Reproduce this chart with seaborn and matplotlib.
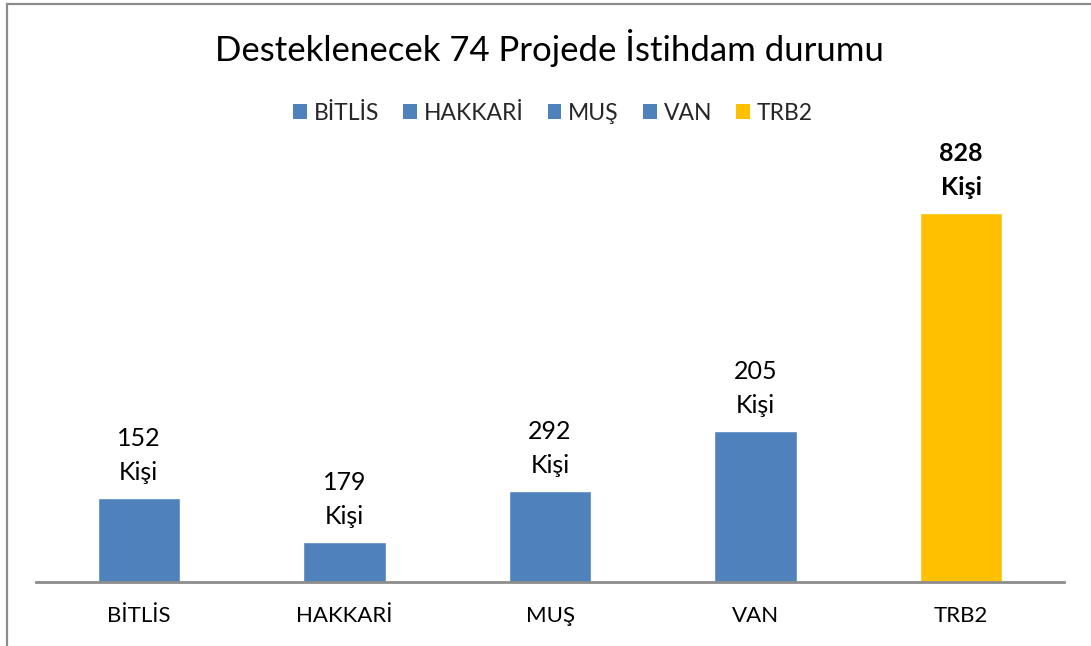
import matplotlib
matplotlib.use("Agg")
import matplotlib.pyplot as plt
import seaborn as sns
import pandas as pd
from matplotlib.patches import Rectangle, Patch

categories = ["BİTLİS", "HAKKARİ", "MUŞ", "VAN", "TRB2"]
bar_values = [188, 90, 204, 339, 828]
label_numbers = ["152", "179", "292", "205", "828"]
label_unit = "Kişi"
colors = ["#4F81BD", "#4F81BD", "#4F81BD", "#4F81BD", "#FFC000"]
title = "Desteklenecek 74 Projede İstihdam durumu"

sns.set_theme(style="white")
plt.rcParams["font.family"] = ["Lato", "DejaVu Sans"]

W, H = 1091, 646
fig = plt.figure(figsize=(W / 100, H / 100), dpi=100)
fig.patch.set_facecolor("white")

# axes: x 36..1064, baseline y=582, top y=150
ax = fig.add_axes([36 / W, (H - 582) / H, (1064 - 36) / W, (582 - 150) / H])
df = pd.DataFrame({"cat": categories, "val": bar_values})
sns.barplot(data=df, x="cat", y="val", hue="cat", palette=colors, width=0.4,
            legend=False, ax=ax, saturation=1, dodge=False)
ax.set_xlim(-0.5, len(categories) - 0.5)
ax.set_ylim(0, 828 * 432 / 369)
ax.set_xlabel("")
ax.set_ylabel("")
ax.set_yticks([])
ax.tick_params(axis="x", length=0, pad=17, labelsize=16, labelcolor="black")
for s in ["top", "right", "left"]:
    ax.spines[s].set_visible(False)
ax.spines["bottom"].set_color("#8C8C8C")
ax.spines["bottom"].set_linewidth(2)

for i, (v, n) in enumerate(zip(bar_values, label_numbers)):
    bold = (i == len(categories) - 1)
    ax.annotate(f"{n}\n{label_unit}", xy=(i, v), xytext=(0, 10), textcoords="offset points",
                ha="center", va="bottom", fontsize=18, linespacing=1.6,
                fontweight="bold" if bold else "normal", color="black")

fig.text(549 / W, 1 - 48 / H, title, ha="center", va="center", fontsize=25, color="black")

handles = [Patch(facecolor=c, edgecolor="none") for c in colors]
fig.legend(handles, categories, loc="center", bbox_to_anchor=(553 / W, 1 - 113 / H), ncol=5,
           frameon=False, fontsize=16.5, handlelength=0.6, handleheight=0.6,
           handletextpad=0.3, columnspacing=1.05)

# chart frame (partially cropped)
fig.patches.append(Rectangle((7 / W, -0.1), 1.2, (1 - 4 / H) + 0.1, transform=fig.transFigure,
                             fill=False, edgecolor="#8C8C8C", linewidth=1.6))

fig.savefig("out.png", dpi=100)
